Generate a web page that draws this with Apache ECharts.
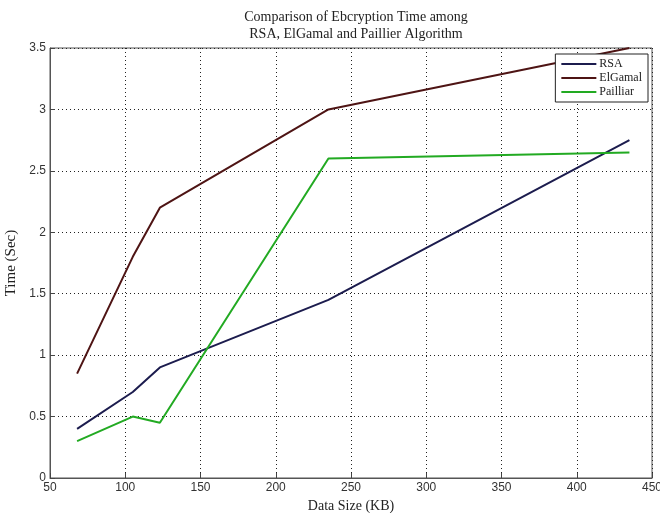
<!DOCTYPE html>
<html>
<head>
<meta charset="utf-8">
<script src="https://cdn.jsdelivr.net/npm/echarts@6/dist/echarts.min.js"></script>
<style>html,body{margin:0;padding:0;background:#fff}#c{width:660px;height:513px}</style>
</head>
<body>
<div id="c"></div>
<script>
var dataSize = [68, 105, 123, 235, 435];
var rsa = [0.4, 0.7, 0.9, 1.45, 2.75];
var elgamal = [0.85, 1.8, 2.2, 3.0, 3.5];
var paillier = [0.3, 0.5, 0.45, 2.6, 2.65];
var seriesNames = ['RSA', 'ElGamal', 'Pailliar'];
var seriesColors = ['#1c1c4e', '#4e1414', '#22aa22'];
var titleLines = ['Comparison of Ebcryption Time among', 'RSA, ElGamal and Paillier Algorithm'];

function pairs(ys) { return dataSize.map(function (x, i) { return [x, ys[i]]; }); }

var chart = echarts.init(document.getElementById('c'));
var serif = '"Liberation Serif", "DejaVu Serif", serif';
var sans = '"Liberation Sans", Arial, sans-serif';
chart.setOption({
  animation: false,
  backgroundColor: '#fff',
  title: {
    text: titleLines.join('\n'),
    left: 351, top: 4, textAlign: 'center',
    textStyle: { fontFamily: serif, fontSize: 14, fontWeight: 'normal', color: '#222', lineHeight: 17 }
  },
  legend: {
    orient: 'vertical', right: 12, top: 54,
    backgroundColor: '#fff', borderColor: '#222', borderWidth: 1, borderRadius: 0,
    padding: [4, 6, 4, 6], itemGap: 2, itemWidth: 35, itemHeight: 2,
    textStyle: { fontFamily: serif, fontSize: 12, color: '#222', padding: [0, 0, 0, -2] },
    data: seriesNames.map(function (n) { return { name: n, icon: 'rect' }; })
  },
  grid: { left: 50, right: 8, top: 48, bottom: 35, show: true, borderColor: '#555', borderWidth: 1, containLabel: false, outerBoundsMode: 'none' },
  xAxis: {
    type: 'value', min: 50, max: 450, interval: 50,
    name: 'Data Size (KB)', nameLocation: 'middle', nameGap: 19,
    nameTextStyle: { fontFamily: serif, fontSize: 14, color: '#222' },
    axisLine: { lineStyle: { color: '#555' } },
    axisTick: { inside: true, length: 5, lineStyle: { color: '#444' } },
    axisLabel: { fontFamily: sans, fontSize: 12, color: '#333', margin: 4 },
    splitLine: { show: true, lineStyle: { type: [1, 3], color: '#222' } }
  },
  yAxis: {
    type: 'value', min: 0, max: 3.5, interval: 0.5,
    name: 'Time (Sec)', nameLocation: 'middle', nameGap: 27,
    nameTextStyle: { fontFamily: serif, fontSize: 15, color: '#222' },
    axisLine: { show: true, lineStyle: { color: '#555' } },
    axisTick: { show: true, inside: true, length: 5, lineStyle: { color: '#444' } },
    axisLabel: { fontFamily: sans, fontSize: 12, color: '#333', margin: 4 },
    splitLine: { show: true, lineStyle: { type: [1, 3], color: '#222' } }
  },
  series: seriesNames.map(function (n, i) {
    return {
      name: n, type: 'line', symbol: 'none',
      data: pairs([rsa, elgamal, paillier][i]),
      lineStyle: { color: seriesColors[i], width: 2 },
      itemStyle: { color: seriesColors[i] }
    };
  })
});
</script>
</body>
</html>
